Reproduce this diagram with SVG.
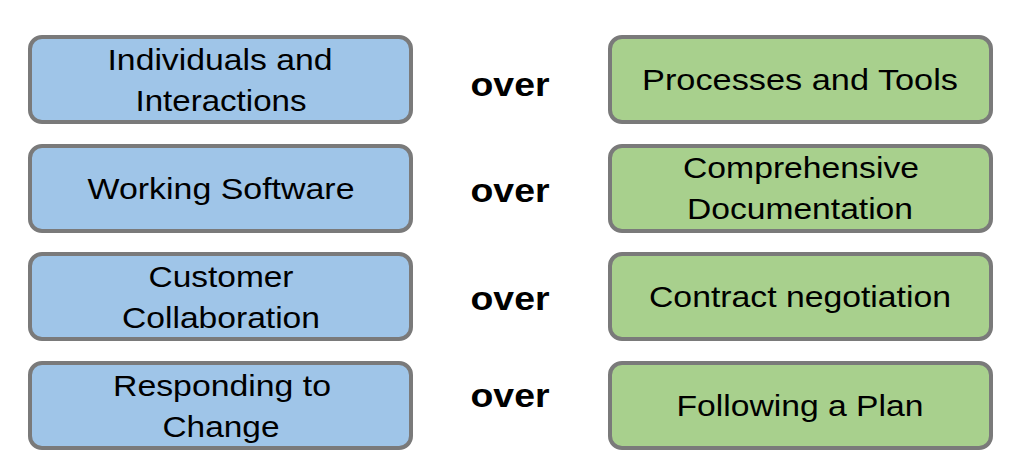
<svg xmlns="http://www.w3.org/2000/svg" width="1024" height="476" viewBox="0 0 1024 476">
<style>
.b{fill:#9fc5e8;stroke:#7a7a7a;stroke-width:4}
.g{fill:#a8d08d;stroke:#7a7a7a;stroke-width:4}
text{font-family:"Liberation Sans",Arial,sans-serif;font-size:30px;fill:#000;text-anchor:middle}
.o{font-size:33px;font-weight:bold}
</style>
<rect width="1024" height="476" fill="#fff"/>
<g id="n1"><rect class="b" x="30" y="37" width="381" height="85" rx="12"/><text x="220" y="70" textLength="225" lengthAdjust="spacingAndGlyphs">Individuals and</text><text x="221" y="111" textLength="171" lengthAdjust="spacingAndGlyphs">Interactions</text></g>
<g id="n2"><rect class="g" x="610" y="37" width="381" height="85" rx="12"/><text x="800" y="90" textLength="316" lengthAdjust="spacingAndGlyphs">Processes and Tools</text></g>
<g id="n3"><rect class="b" x="30" y="146" width="381" height="85" rx="12"/><text x="221" y="199" textLength="267" lengthAdjust="spacingAndGlyphs">Working Software</text></g>
<g id="n4"><rect class="g" x="610" y="146" width="381" height="85" rx="12"/><text x="801" y="178" textLength="236" lengthAdjust="spacingAndGlyphs">Comprehensive</text><text x="800" y="219" textLength="226" lengthAdjust="spacingAndGlyphs">Documentation</text></g>
<g id="n5"><rect class="b" x="30" y="254" width="381" height="85" rx="12"/><text x="221" y="287" textLength="145" lengthAdjust="spacingAndGlyphs">Customer</text><text x="221" y="328" textLength="198" lengthAdjust="spacingAndGlyphs">Collaboration</text></g>
<g id="n6"><rect class="g" x="610" y="254" width="381" height="85" rx="12"/><text x="800" y="307" textLength="302" lengthAdjust="spacingAndGlyphs">Contract negotiation</text></g>
<g id="n7"><rect class="b" x="30" y="363" width="381" height="85" rx="12"/><text x="222" y="396" textLength="218" lengthAdjust="spacingAndGlyphs">Responding to</text><text x="221" y="437" textLength="117" lengthAdjust="spacingAndGlyphs">Change</text></g>
<g id="n8"><rect class="g" x="610" y="363" width="381" height="85" rx="12"/><text x="800" y="416" textLength="247" lengthAdjust="spacingAndGlyphs">Following a Plan</text></g>
<g id="connectors"><text class="o" x="510" y="96" textLength="79" lengthAdjust="spacingAndGlyphs">over</text><text class="o" x="510" y="202" textLength="79" lengthAdjust="spacingAndGlyphs">over</text><text class="o" x="510" y="310" textLength="79" lengthAdjust="spacingAndGlyphs">over</text><text class="o" x="510" y="407" textLength="79" lengthAdjust="spacingAndGlyphs">over</text></g>
</svg>
